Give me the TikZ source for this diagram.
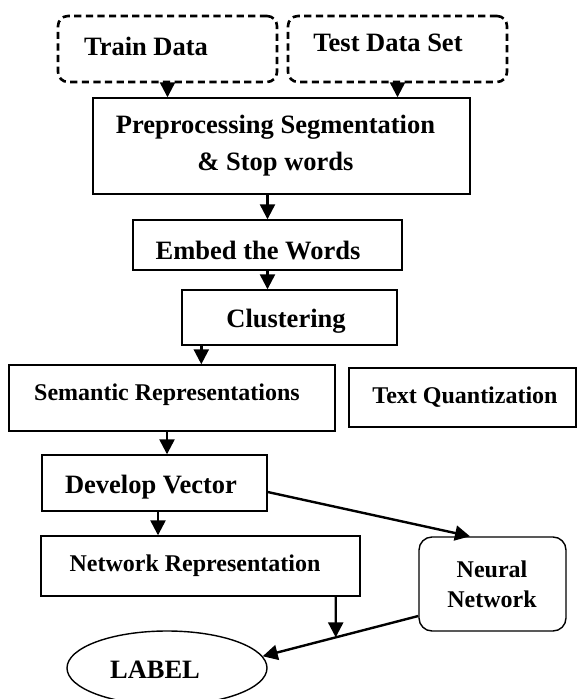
\documentclass[tikz,border=0pt]{standalone}
\usepackage{fontspec}
\setmainfont{Liberation Serif}
\usetikzlibrary{arrows.meta,shapes.geometric,intersections}
\begin{document}
\begin{tikzpicture}[x=0.5pt,y=-0.5pt,
  box/.style={draw=black,line width=0.7pt,inner sep=0pt},
  dbox/.style={draw=black,line width=1.3pt,dash pattern=on 3.6pt off 2.2pt,rounded corners=5pt,inner sep=0pt},
  rbox/.style={draw=black,line width=0.7pt,rounded corners=6.5pt,inner sep=0pt},
  ebox/.style={draw=black,line width=0.7pt,ellipse,inner sep=0pt},
  big/.style={font=\fontsize{13.25pt}{18.5pt}\selectfont\bfseries,inner sep=0pt},
  small/.style={font=\fontsize{12pt}{15pt}\selectfont\bfseries,inner sep=0pt},
  arr/.style={line width=1.2pt,-{Triangle[length=7.5pt,width=7.5pt]}}]
\useasboundingbox (0,0) rectangle (577,699);
% boxes
\node[dbox,minimum width=109.5pt,minimum height=33pt] (train) at (167.5,49) {};
\node[dbox,minimum width=109.5pt,minimum height=33pt] (test) at (397.5,49) {};
\node[box,minimum width=188.5pt,minimum height=48pt] (pre) at (281.5,146) {};
\node[box,minimum width=134.5pt,minimum height=25pt] (embed) at (267.5,245) {};
\node[box,minimum width=107.5pt,minimum height=27.5pt] (clus) at (289.5,317.5) {};
\node[box,minimum width=163pt,minimum height=33pt] (sem) at (172,398) {};
\node[box,minimum width=113.5pt,minimum height=29.5pt] (tq) at (462.5,397.5) {};
\node[box,minimum width=112.5pt,minimum height=28pt] (dev) at (154.5,483) {};
\node[box,minimum width=159.5pt,minimum height=30pt] (net) at (200.5,566) {};
\node[rbox,minimum width=73.5pt,minimum height=47pt] (nn) at (492.5,584) {};
\node[ebox,minimum width=100pt,minimum height=37pt] (lab) at (167,668) {};
% texts
\node[big,anchor=base] (trainT) at (146,56) {Train Data};
\node[big,anchor=base] (testT) at (388,52) {Test Data Set};
\node[big,align=center] (preT) at (275.5,145.3) {Preprocessing Segmentation\\\& Stop words};
\node[big,anchor=base] (embT) at (258,260) {Embed the Words};
\node[big,anchor=base] (clusT) at (286,328) {Clustering};
\node[small,anchor=base] (semT) at (167,400) {Semantic Representations};
\node[small,anchor=base] (tqT) at (465,403) {Text Quantization};
\node[big,anchor=base] (devT) at (151,493) {Develop Vector};
\node[small,anchor=base] (netT) at (195,571) {Network Representation};
\node[small,align=center] (nnT) at (492,583.8) {Neural\\Network};
\node[big,anchor=base] (labT) at (155,678) {LABEL};
% connectors
\draw[arr] (train.south) -- (train.south |- pre.north);
\draw[arr] (test.south) -- (test.south |- pre.north);
\draw[arr] (embed.north |- pre.south) -- (embed.north);
\draw[arr] (embed.south) -- (embed.south |- clus.north);
\coordinate (c1) at ([shift={(20,0)}]clus.south west);
\draw[arr] (c1) -- (c1 |- sem.north);
\coordinate (c2) at ([shift={(-5,0)}]sem.south);
\draw[arr] (c2) -- (c2 |- dev.north);
\coordinate (c3) at ([shift={(3.5,0)}]dev.south);
\draw[arr] (c3) -- (c3 |- net.north);
\draw[arr] ([shift={(0,9)}]dev.east) -- ([shift={(-22.5,0)}]nn.north);
\coordinate (nnw) at ([shift={(0,32)}]nn.west);
\draw[arr,name path=diag] (nnw) -- (lab.7);
\coordinate (c4) at ([shift={(-25,0)}]net.south east);
\path[name path=vert] (c4) -- ++(0,120);
\path[name intersections={of=diag and vert,by=mid}];
\draw[arr] (c4) -- (mid);
\end{tikzpicture}
\end{document}
